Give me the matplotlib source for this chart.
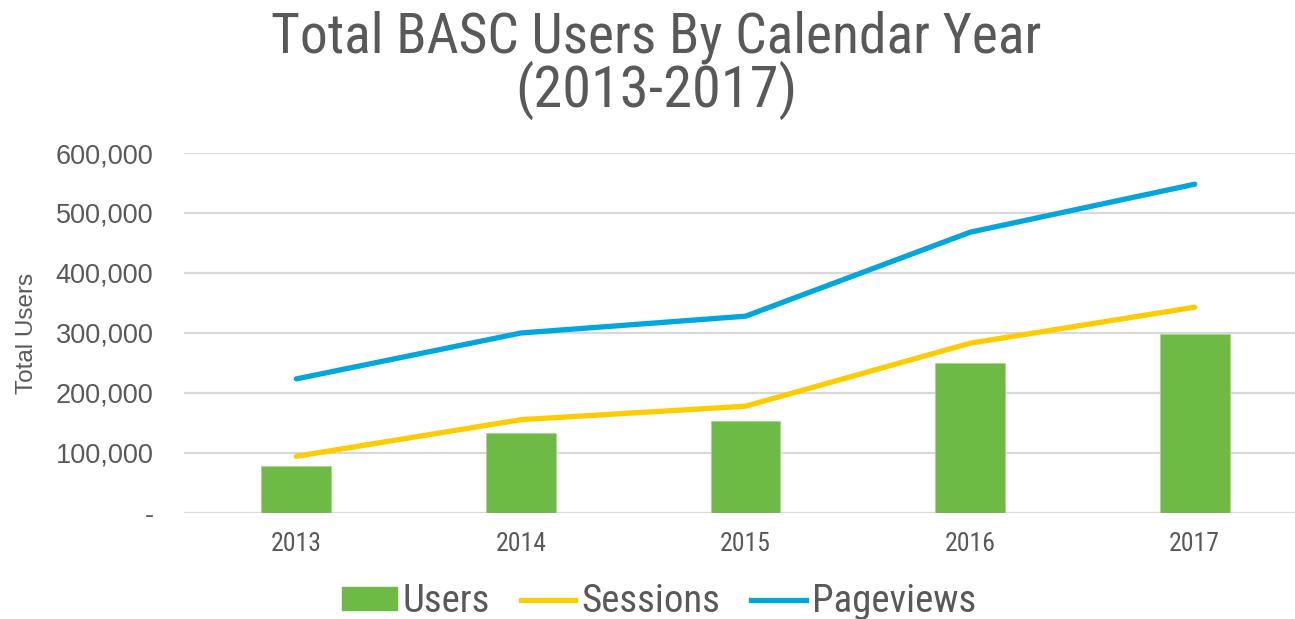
import numpy as np
import matplotlib.pyplot as plt
from matplotlib.ticker import FuncFormatter
from matplotlib.lines import Line2D
from matplotlib.patches import Patch

years = ["2013", "2014", "2015", "2016", "2017"]
users = [78000, 133000, 154000, 249500, 299000]
sessions = [94500, 155500, 178000, 283000, 343000]
pageviews = [223500, 300000, 328000, 468000, 548000]

gray = "#595959"
green = "#6DBB45"
yellow = "#FFCC00"
blue = "#00A6DE"
narrow = ["Roboto Condensed", "DejaVu Sans Condensed", "Liberation Sans Narrow", "Roboto", "DejaVu Sans"]

fig = plt.figure(figsize=(12.95, 6.19), dpi=100)
ax = fig.add_axes([184 / 1295, 1 - 513 / 619, 1123 / 1295, 360 / 619])

x = np.arange(len(years))
ax.bar(x, users, width=0.31, color=green, edgecolor="#A9D68F", linewidth=0.6, zorder=2)
ax.plot(x, sessions, color=yellow, lw=3.8, solid_capstyle="round", zorder=3)
ax.plot(x, pageviews, color=blue, lw=3.8, solid_capstyle="round", zorder=3)

ax.set_xlim(-0.5, 4.5)
ax.set_ylim(0, 600000)
ax.set_yticks(np.arange(0, 600001, 100000))
ax.yaxis.set_major_formatter(FuncFormatter(lambda v, p: "-" if v == 0 else f"{int(v):,}"))
ax.set_xticks(x)
ax.set_xticklabels(years, family=narrow, fontsize=18.5, color=gray)
for lab in ax.get_yticklabels():
    lab.set_family("Liberation Sans")
    lab.set_fontsize(19.5)
    lab.set_color(gray)
ax.tick_params(axis="both", length=0)
ax.tick_params(axis="y", pad=22)
ax.tick_params(axis="x", pad=14)
ax.grid(axis="y", color="#D9D9D9", lw=1.6, zorder=0)
for s in ax.spines.values():
    s.set_visible(False)
ax.set_ylabel("Total Users", family="Liberation Sans", fontsize=17.5, color=gray, labelpad=13)

fig.text(656 / 1295, 1 - 52 / 619, "Total BASC Users By Calendar Year", ha="center", va="baseline",
         family=narrow, fontsize=40, color=gray)
fig.text(656 / 1295, 1 - 107 / 619, "(2013-2017)", ha="center", va="baseline",
         family=narrow, fontsize=42, color=gray)

handles = [Patch(color=green), Line2D([], [], color=yellow, lw=3.8), Line2D([], [], color=blue, lw=3.8)]
fig.legend(handles, ["Users", "Sessions", "Pageviews"], loc="center", bbox_to_anchor=(659 / 1295, 1 - 602 / 619),
           ncol=3, frameon=False, handlelength=1.4, handleheight=0.55, handletextpad=0.15, columnspacing=0.8,
           prop={"family": narrow, "size": 28}, labelcolor=gray)

fig.savefig("out.png", dpi=100)
